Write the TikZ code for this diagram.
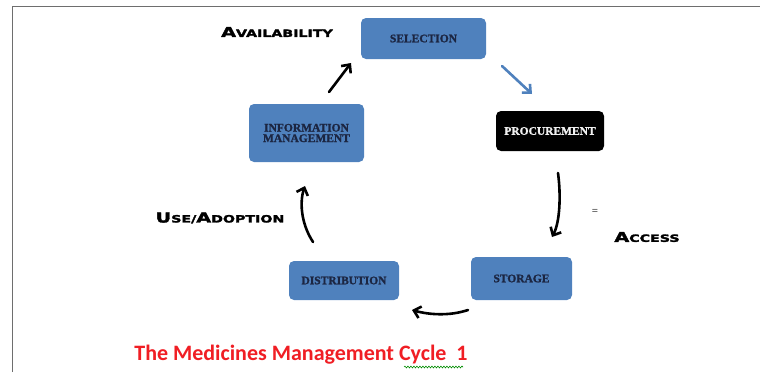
\documentclass[tikz,border=0pt]{standalone}
\usepackage{fontspec}
\setmainfont{Liberation Serif}
\newfontfamily\titlefont{Carlito}
\newfontfamily\boxfont[FakeBold=1.4]{Liberation Serif}
\newfontfamily\capsfont[FakeStretch=1.42,FakeBold=2.6]{DejaVu Sans}
\usetikzlibrary{arrows.meta,decorations.pathmorphing}
\definecolor{boxblue}{HTML}{4F81BD}
\definecolor{boxink}{HTML}{1C2642}
\definecolor{titlered}{HTML}{F01E24}
\definecolor{framegray}{HTML}{6E6E6E}
\newcommand\heavysc[2]{{\capsfont\bfseries\fontsize{13.5}{14}\selectfont #1\fontsize{10}{10}\selectfont #2}}
\tikzset{
  stepbox/.style={rectangle, rounded corners=5pt, fill=boxblue, text=boxink,
    font=\boxfont\bfseries\fontsize{11.5}{12}\selectfont, align=center, inner sep=0pt},
  darkbox/.style={stepbox, fill=black, text=white!88!gray},
  flow/.style={line width=2.6pt, line cap=round,
    -{Straight Barb[length=6.5pt,width=12pt,line width=2.6pt]}},
  blueflow/.style={flow, draw=boxblue},
  caption/.style={inner sep=0pt, anchor=center}
}
\begin{document}
\begin{tikzpicture}[x=1pt,y=-1pt]
  \useasboundingbox (0,0) rectangle (760,372);
  % page frame
  \draw[framegray, line width=1.6pt] (12.5,372) -- (12.5,6.5) -- (760,6.5);

  % cycle steps
  \node[stepbox, minimum width=125pt, minimum height=41pt] (sel)  at (423.5,38.5) {SELECTION};
  \node[stepbox, minimum width=115pt, minimum height=58pt] (info) at (306.5,133) {INFORMATION\\[-1.5pt]MANAGEMENT};
  \node[darkbox, minimum width=108pt, minimum height=40pt] (proc) at (550,131) {PROCUREMENT};
  \node[stepbox, minimum width=101pt, minimum height=43pt] (stor) at (521.5,278.5) {STORAGE};
  \node[stepbox, minimum width=110pt, minimum height=39pt] (dist) at (344,280.5) {DISTRIBUTION};

  % side labels
  \node[caption] (avail)  at (277,32)  {\heavysc{A}{VAILABILITY}};
  \node[caption] (use)    at (220,218) {\heavysc{U}{SE/}\heavysc{A}{DOPTION}};
  \node[caption, font=\fontsize{11}{11}\selectfont] (eq) at (595,212) {=};
  \node[caption] (access) at (647,237) {\heavysc{A}{CCESS}};

  % title
  \node[caption, text=titlered, font=\titlefont\bfseries\fontsize{22}{22}\selectfont] (title) at (301,355) {The Medicines Management Cycle\ \ 1};
  \draw[green!55!black, line width=0.6pt, decoration={snake, amplitude=0.9pt, segment length=3pt}, decorate]
    (404,367) -- (463,367);

  % arrow end points
  \coordinate (a1s) at (329,92);
  \coordinate (a1e) at (351,63);
  \coordinate (a2s) at (502,66);
  \coordinate (a2e) at (532,94);
  \coordinate (a3s) at (558,173);
  \coordinate (a3e) at (552,237);
  \coordinate (a4s) at (468,310);
  \coordinate (a4e) at (412,310);
  \coordinate (a5s) at (313,242);
  \coordinate (a5e) at (305,186);

  % connectors
  \draw[flow] (a1s) -- (a1e);
  \draw[blueflow] (a2s) -- (a2e);
  \draw[flow] (a3s) .. controls (561,195) and (560,222) .. (a3e);
  \draw[flow] (a4s) .. controls (450,316) and (430,315) .. (a4e);
  \draw[flow] (a5s) .. controls (300,222) and (300,200) .. (a5e);
\end{tikzpicture}
\end{document}
